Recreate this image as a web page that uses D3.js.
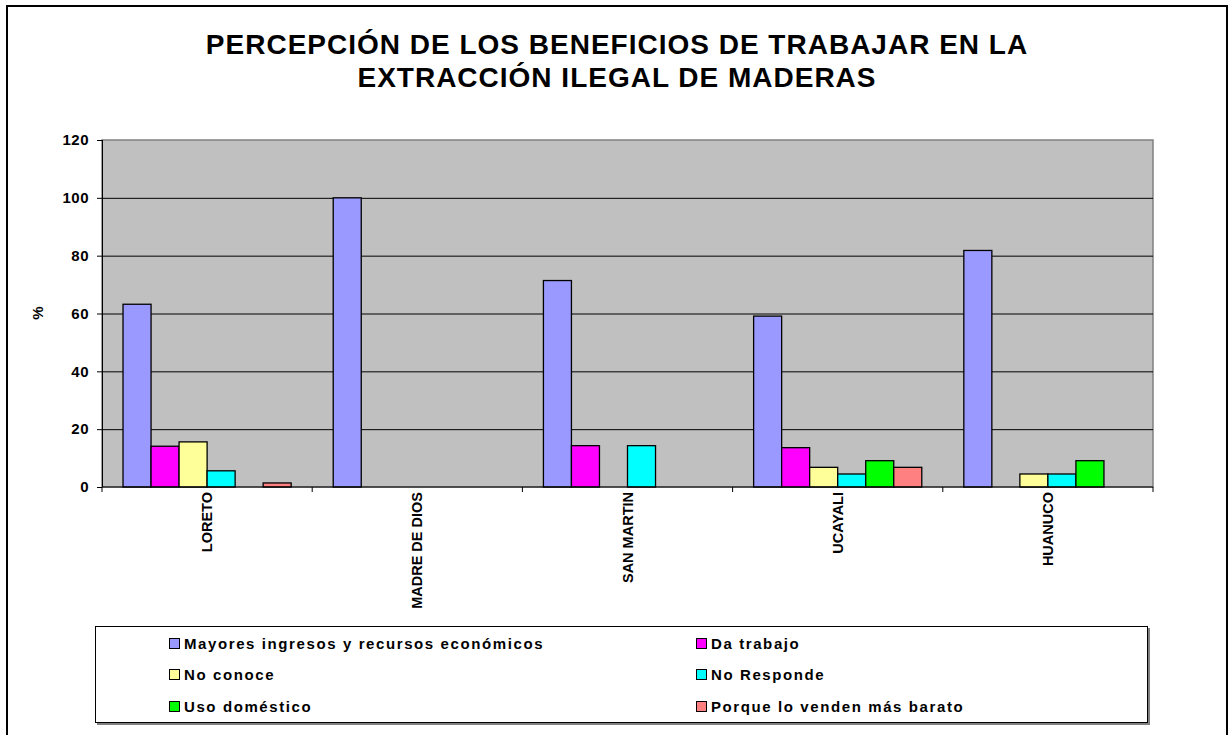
<!DOCTYPE html>
<html>
<head>
<meta charset="utf-8">
<script src="https://cdn.jsdelivr.net/npm/d3@7"></script>
<style>
  body { margin: 0; background: #fff; }
  svg { display: block; font-family: "Liberation Sans", Arial, sans-serif; font-weight: bold; }
</style>
</head>
<body>
<script>
// data
var categories = ["LORETO", "MADRE DE DIOS", "SAN MARTIN", "UCAYALI", "HUANUCO"]
var seriesNames = ["Mayores ingresos y recursos económicos", "Da trabajo", "No conoce",
                   "No Responde", "Uso doméstico", "Porque lo venden más barato"]
var seriesColors = ["#9999ff", "#ff00ff", "#ffff99", "#00ffff", "#00ff00", "#ff8080"]
var mayores      = [63.2, 100, 71.4, 59.1, 81.8]
var daTrabajo    = [14.1, 0, 14.3, 13.6, 0]
var noConoce     = [15.6, 0, 0, 6.8, 4.5]
var noResponde   = [5.6, 0, 14.3, 4.5, 4.5]
var usoDomestico = [0, 0, 0, 9.1, 9.1]
var masBarato    = [1.4, 0, 0, 6.8, 0]
var yTicks = [0, 20, 40, 60, 80, 100, 120]
var titleLines = ["PERCEPCIÓN DE LOS BENEFICIOS DE TRABAJAR EN LA", "EXTRACCIÓN ILEGAL DE MADERAS"]

var seriesValues = [mayores, daTrabajo, noConoce, noResponde, usoDomestico, masBarato]

var W = 1231, H = 735
var plot = { left: 102, top: 140, right: 1153, bottom: 487 }

var svg = d3.select('body').append('svg')
  .attr('width', W)
  .attr('height', H)

// chart border
svg.append('rect')
  .attr('x', 7).attr('y', 6)
  .attr('width', 1220).attr('height', 760)
  .attr('fill', 'none')
  .attr('stroke', '#000')
  .attr('stroke-width', 2)

// title
svg.append('text')
  .attr('text-anchor', 'middle')
  .style('font-size', '28px')
  .style('letter-spacing', '1px')
  .selectAll('tspan')
  .data(titleLines)
  .join('tspan')
  .attr('x', 617)
  .attr('y', function(d, i) { return 54 + i * 33 })
  .text(function(d) { return d })

var x0 = d3.scaleBand()
  .domain(categories)
  .range([plot.left, plot.right])

var x1 = d3.scaleBand()
  .domain(d3.range(seriesNames.length))
  .range([0, x0.bandwidth()])
  .paddingOuter(0.75)

var y = d3.scaleLinear()
  .domain([0, 120])
  .range([plot.bottom, plot.top])

// plot background
svg.append('rect')
  .attr('x', plot.left).attr('y', plot.top)
  .attr('width', plot.right - plot.left)
  .attr('height', plot.bottom - plot.top)
  .attr('fill', '#c0c0c0')
  .attr('stroke', '#808080')
  .attr('stroke-width', 1.5)

// gridlines
svg.append('g')
  .attr('class', 'grid')
  .attr('transform', 'translate(' + plot.left + ',0)')
  .call(d3.axisLeft(y).tickValues(yTicks.slice(1, -1)).tickSize(-(plot.right - plot.left)).tickFormat(''))
  .call(function(g) { g.select('.domain').remove() })
  .selectAll('line')
  .attr('stroke', '#000')

// bars
var groups = svg.append('g')
  .selectAll('g')
  .data(categories)
  .join('g')
  .attr('transform', function(d) { return 'translate(' + x0(d) + ',0)' })

groups.selectAll('rect')
  .data(function(d, ci) {
    return seriesValues.map(function(vals, si) { return { s: si, v: vals[ci] } })
      .filter(function(b) { return b.v > 0 })
  })
  .join('rect')
  .attr('x', function(d) { return x1(d.s) })
  .attr('y', function(d) { return y(d.v) })
  .attr('width', x1.bandwidth())
  .attr('height', function(d) { return y(0) - y(d.v) })
  .attr('fill', function(d) { return seriesColors[d.s] })
  .attr('stroke', '#000')
  .attr('stroke-width', 1.3)

// y axis
var yAxis = svg.append('g')
  .attr('transform', 'translate(' + plot.left + ',0)')
  .call(d3.axisLeft(y).tickValues(yTicks).tickSize(5).tickPadding(8))
yAxis.select('.domain').attr('stroke', '#000').attr('d', 'M0.5,' + plot.top + 'V' + plot.bottom)
yAxis.selectAll('line').attr('stroke', '#000')
yAxis.selectAll('text')
  .style('font-size', '15px')
  .style('font-family', '"Liberation Sans", Arial, sans-serif')
  .style('font-weight', 'bold')
  .style('letter-spacing', '0.5px')
  .attr('fill', '#000')

svg.append('text')
  .attr('transform', 'translate(43,313) rotate(-90)')
  .attr('text-anchor', 'middle')
  .style('font-size', '15px')
  .text('%')

// x axis
var xAxis = svg.append('g')
  .attr('transform', 'translate(0,' + plot.bottom + ')')
xAxis.append('line')
  .attr('x1', plot.left).attr('x2', plot.right)
  .attr('stroke', '#000')
xAxis.selectAll('line.tick')
  .data(categories.concat(['end']))
  .join('line')
  .attr('class', 'tick')
  .attr('x1', function(d) { return d === 'end' ? plot.right : x0(d) })
  .attr('x2', function(d) { return d === 'end' ? plot.right : x0(d) })
  .attr('y1', 0).attr('y2', 5)
  .attr('stroke', '#000')

xAxis.selectAll('text')
  .data(categories)
  .join('text')
  .attr('transform', function(d) {
    return 'translate(' + (x0(d) + x0.bandwidth() / 2 + 5) + ',5) rotate(-90)'
  })
  .attr('text-anchor', 'end')
  .style('font-size', '14.5px')
  .text(function(d) { return d })

// legend
var legend = svg.append('g')
legend.append('rect')
  .attr('x', 97).attr('y', 628)
  .attr('width', 1053).attr('height', 97)
  .attr('fill', '#808080')
legend.append('rect')
  .attr('x', 95.5).attr('y', 626.5)
  .attr('width', 1052).attr('height', 96)
  .attr('fill', '#fff')
  .attr('stroke', '#000')

var items = legend.selectAll('g.item')
  .data(seriesNames)
  .join('g')
  .attr('class', 'item')
  .attr('transform', function(d, i) {
    return 'translate(' + (i % 2 ? 696 : 169) + ',' + [643, 674, 706][Math.floor(i / 2)] + ')'
  })
items.append('rect')
  .attr('x', 0.5).attr('y', -4.5)
  .attr('width', 10).attr('height', 10)
  .attr('fill', function(d, i) { return seriesColors[i] })
  .attr('stroke', '#000')
items.append('text')
  .attr('x', 15)
  .attr('y', 5.5)
  .style('font-size', '15px')
  .style('letter-spacing', '1.6px')
  .text(function(d) { return d })
</script>
</body>
</html>
